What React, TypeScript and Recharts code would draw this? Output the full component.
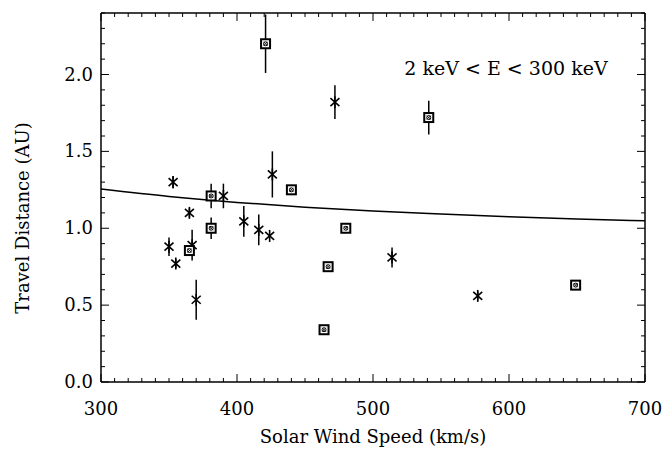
import React from 'react';
import { ComposedChart, Scatter, XAxis, YAxis, ErrorBar } from 'recharts';

// Boxed symbols: solar wind speed (km/s), travel distance (AU), error (AU)
const squareSpeed = [421, 541, 440, 381, 381, 480, 365, 467, 464, 649];
const squareDist = [2.2, 1.72, 1.25, 1.21, 1.0, 1.0, 0.855, 0.75, 0.34, 0.63];
const squareErr = [0.19, 0.11, 0, 0.08, 0.07, 0, 0, 0, 0, 0];

// Asterisk symbols
const starSpeed = [472, 353, 426, 390, 365, 405, 416, 424, 350, 355, 367, 370, 514, 577];
const starDist = [1.82, 1.3, 1.35, 1.21, 1.1, 1.045, 0.99, 0.95, 0.88, 0.77, 0.89, 0.535, 0.81, 0.56];
const starErr = [0.11, 0.04, 0.15, 0.08, 0.03, 0.1, 0.1, 0, 0.06, 0.03, 0.1, 0.13, 0.065, 0.03];

// Fitted curve
const curveSpeed = [300, 350, 400, 450, 500, 550, 600, 650, 700];
const curveDist = [1.255, 1.207, 1.168, 1.137, 1.112, 1.092, 1.074, 1.06, 1.049];

const xTicks = [
  300, 310, 320, 330, 340, 350, 360, 370, 380, 390, 400, 410, 420, 430, 440, 450, 460, 470, 480, 490,
  500, 510, 520, 530, 540, 550, 560, 570, 580, 590, 600, 610, 620, 630, 640, 650, 660, 670, 680, 690, 700,
];
const yTicks = [
  0, 0.1, 0.2, 0.3, 0.4, 0.5, 0.6, 0.7, 0.8, 0.9, 1.0, 1.1, 1.2, 1.3, 1.4, 1.5, 1.6, 1.7, 1.8, 1.9, 2.0,
  2.1, 2.2, 2.3, 2.4,
];

const squares = squareSpeed.map((s, i) => ({ x: s, y: squareDist[i], err: squareErr[i] }));
const stars = starSpeed.map((s, i) => ({ x: s, y: starDist[i], err: starErr[i] }));
const curve = curveSpeed.map((s, i) => ({ x: s, y: curveDist[i] }));

const FONT = '"DejaVu Serif", serif';

const SquareShape = (p: any) => {
  const { cx, cy } = p;
  const h = 4.5;
  return (
    <g>
      <rect x={cx - h} y={cy - h} width={2 * h} height={2 * h} fill="#fff" stroke="#000" strokeWidth={2} />
      <circle cx={cx} cy={cy} r={2} fill="none" stroke="#000" strokeWidth={1} />
      <line x1={cx - 2} y1={cy - 2} x2={cx + 2} y2={cy + 2} stroke="#000" strokeWidth={0.8} />
      <line x1={cx - 2} y1={cy + 2} x2={cx + 2} y2={cy - 2} stroke="#000" strokeWidth={0.8} />
    </g>
  );
};

const StarShape = (p: any) => {
  const { cx, cy } = p;
  return (
    <g stroke="#000" strokeWidth={1.6}>
      <line x1={cx} y1={cy - 6} x2={cx} y2={cy + 6} />
      <line x1={cx - 4.5} y1={cy - 4} x2={cx + 4.5} y2={cy + 4} />
      <line x1={cx - 4.5} y1={cy + 4} x2={cx + 4.5} y2={cy - 4} />
    </g>
  );
};

const NoShape = () => <g />;

const BottomTick = (p: any) => {
  const { x, y, payload } = p;
  const major = payload.value % 100 === 0;
  return (
    <g>
      <line x1={x} x2={x} y1={y} y2={y - (major ? 8 : 4)} stroke="#000" strokeWidth={1} />
      {major && (
        <text x={x} y={y + 33} textAnchor="middle" fontSize={18} fontFamily={FONT} fill="#000">
          {payload.value}
        </text>
      )}
    </g>
  );
};

const TopTick = (p: any) => {
  const { x, y, payload } = p;
  const major = payload.value % 100 === 0;
  return <line x1={x} x2={x} y1={y} y2={y + (major ? 8 : 4)} stroke="#000" strokeWidth={1} />;
};

const LeftTick = (p: any) => {
  const { x, y, payload } = p;
  const major = Math.round(payload.value * 10) % 5 === 0;
  return (
    <g>
      <line x1={x} x2={x + (major ? 8 : 4)} y1={y} y2={y} stroke="#000" strokeWidth={1} />
      {major && (
        <text x={x - 8} y={y + 6} textAnchor="end" fontSize={18} fontFamily={FONT} fill="#000">
          {payload.value.toFixed(1)}
        </text>
      )}
    </g>
  );
};

const RightTick = (p: any) => {
  const { x, y, payload } = p;
  const major = Math.round(payload.value * 10) % 5 === 0;
  return <line x1={x} x2={x - (major ? 8 : 4)} y1={y} y2={y} stroke="#000" strokeWidth={1} />;
};

export default function App() {
  return (
    <div
      style={{
        position: 'absolute',
        left: 0,
        top: 0,
        width: 662,
        height: 462,
        background: '#fff',
        color: '#000',
      }}
    >
      <ComposedChart width={662} height={462} margin={{ top: 12, right: 16, left: 0, bottom: 0 }}>
        <XAxis
          xAxisId="b"
          dataKey="x"
          type="number"
          domain={[300, 700]}
          allowDataOverflow
          ticks={xTicks}
          interval={0}
          tickSize={0}
          tickMargin={0}
          tick={<BottomTick />}
          tickLine={false}
          axisLine={{ stroke: '#000', strokeWidth: 1.5 }}
          height={80}
          orientation="bottom"
        />
        <XAxis
          xAxisId="t"
          dataKey="x"
          type="number"
          domain={[300, 700]}
          allowDataOverflow
          ticks={xTicks}
          interval={0}
          tickSize={0}
          tickMargin={0}
          tick={<TopTick />}
          tickLine={false}
          axisLine={{ stroke: '#000', strokeWidth: 1.5 }}
          height={1}
          orientation="top"
        />
        <YAxis
          yAxisId="l"
          dataKey="y"
          type="number"
          domain={[0, 2.4]}
          allowDataOverflow
          ticks={yTicks}
          interval={0}
          tickSize={0}
          tickMargin={0}
          tick={<LeftTick />}
          tickLine={false}
          axisLine={{ stroke: '#000', strokeWidth: 1.5 }}
          width={101}
          orientation="left"
        />
        <YAxis
          yAxisId="r"
          dataKey="y"
          type="number"
          domain={[0, 2.4]}
          allowDataOverflow
          ticks={yTicks}
          interval={0}
          tickSize={0}
          tickMargin={0}
          tick={<RightTick />}
          tickLine={false}
          axisLine={{ stroke: '#000', strokeWidth: 1.5 }}
          width={1}
          orientation="right"
        />
        <Scatter
          data={curve}
          xAxisId="t"
          yAxisId="r"
          line={{ stroke: '#000', strokeWidth: 1.5 }}
          lineJointType="monotoneX"
          shape={NoShape}
          isAnimationActive={false}
        />
        <Scatter data={stars} xAxisId="b" yAxisId="l" shape={StarShape} isAnimationActive={false}>
          <ErrorBar dataKey="err" direction="y" width={0} stroke="#000" strokeWidth={1.5} />
        </Scatter>
        <Scatter data={squares} xAxisId="b" yAxisId="l" shape={SquareShape} isAnimationActive={false}>
          <ErrorBar dataKey="err" direction="y" width={0} stroke="#000" strokeWidth={1.5} />
        </Scatter>
      </ComposedChart>
      <svg
        width={50}
        height={462}
        style={{ position: 'absolute', left: 0, top: 0, pointerEvents: 'none' }}
      >
        <text
          x={0}
          y={0}
          transform="translate(29, 218) rotate(-90)"
          textAnchor="middle"
          fontFamily={FONT}
          fontSize={18}
          fill="#000"
        >
          Travel Distance (AU)
        </text>
      </svg>
      <div
        style={{
          position: 'absolute',
          left: 101,
          width: 544,
          top: 425,
          textAlign: 'center',
          fontFamily: FONT,
          fontSize: 18,
          lineHeight: '24px',
        }}
      >
        Solar Wind Speed (km/s)
      </div>
      <div
        style={{
          position: 'absolute',
          left: 398,
          width: 216,
          top: 55,
          textAlign: 'center',
          fontFamily: FONT,
          fontSize: 19,
          lineHeight: '26px',
          whiteSpace: 'nowrap',
        }}
      >
        2 keV &lt; E &lt; 300 keV
      </div>
    </div>
  );
}
